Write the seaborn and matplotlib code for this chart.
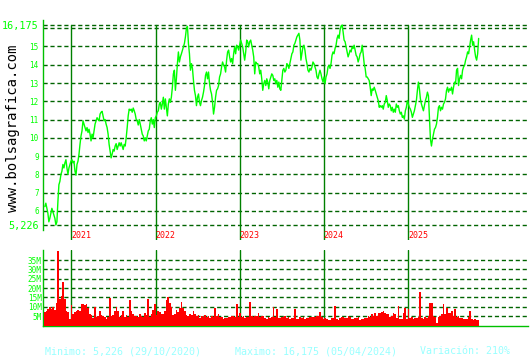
import matplotlib
matplotlib.use("Agg")
import matplotlib.pyplot as plt
import pandas as pd
import seaborn as sns

# ---------------- data ----------------
start_date, end_date = "2020-09-08", "2025-11-02"

close_prices = [
    6.23, 6.42, 6.15, 5.88, 5.4, 5.6, 5.88, 6.14, 5.96, 5.77, 5.59, 5.226, 5.4, 6.5,
    7.43, 7.62, 7.99, 8.17, 8.54, 8.35, 8.63, 8.8, 8.35, 8.0,
    8.35, 8.54, 8.72, 8.8, 8.63, 8.72, 8.17, 7.95, 8.54, 8.72,
    9.1, 9.64, 10.1, 10.38, 10.93, 10.75, 10.56, 10.38, 10.56, 10.29,
    10.47, 10.2, 9.83, 10.2, 10.0, 10.38, 10.75, 10.93, 11.1, 11.0,
    10.93, 11.3, 11.4, 11.45, 11.2, 10.93, 11.0, 10.75, 10.56, 10.2,
    9.64, 9.27, 8.9, 9.1, 9.36, 9.27, 9.55, 9.68, 9.36, 9.55,
    9.73, 9.55, 9.73, 9.55, 9.36, 9.64, 9.55, 10.0, 10.56, 11.2,
    11.57, 11.5, 11.57, 11.4, 11.63, 11.48, 11.3, 11.0, 10.93, 10.7,
    11.0, 10.75, 10.47, 10.2, 10.1, 9.83, 10.0, 9.83, 10.1, 10.38, 10.47,
    10.93, 11.1, 10.75, 11.0, 10.56, 11.1, 11.2, 11.4, 11.48, 11.85,
    11.94, 11.57, 11.85, 12.22, 11.57, 12.13, 11.67, 11.2, 11.85, 12.13,
    11.94, 12.22, 12.77, 13.5, 13.7, 12.6, 13.23, 14.06, 14.7, 14.15,
    14.43, 14.6, 14.8, 14.98, 15.17, 15.53, 16.0, 16.1, 15.17, 14.6,
    13.7, 14.06, 13.8, 13.14, 12.6, 12.3, 11.76, 12.22, 12.4, 11.94,
    11.76, 12.04, 12.22, 12.5, 12.86, 13.42, 13.6, 13.23, 13.6, 12.96,
    12.6, 12.4, 11.94, 11.3, 11.67, 12.22, 12.6, 12.68, 12.86, 13.33,
    13.5, 13.88, 14.15, 13.97, 13.88, 13.6, 14.25, 14.7, 14.8, 14.43,
    14.15, 14.34, 14.06, 14.6, 14.98, 14.6, 15.07, 14.98, 14.8, 15.07,
    15.35, 15.17, 14.98, 14.6, 14.25, 14.7, 15.35, 15.26, 14.98, 15.26,
    15.35, 15.07, 14.8, 14.43, 13.5, 14.15, 14.06,
    14.06, 13.88, 13.5, 13.7, 13.23, 12.6, 12.96, 13.14, 12.86, 13.23,
    13.05, 12.68, 13.14, 13.33, 13.5, 13.42, 13.14, 13.23, 12.96, 13.14,
    12.77, 13.05, 12.68, 12.6, 13.14, 13.7, 13.8, 13.6, 13.7, 14.06,
    13.97, 13.8, 14.06, 14.34, 14.6, 14.7, 15.07, 15.17, 15.35, 15.53,
    15.62, 15.72, 15.35, 14.25, 14.6, 14.98, 15.07, 14.8, 14.34, 14.06,
    13.7, 13.6, 13.8, 13.7, 13.88, 14.15, 14.06, 13.88, 13.7, 13.33,
    13.23, 13.5, 13.7, 13.5, 13.23, 13.05, 13.33, 12.96, 13.33, 13.5,
    13.88, 13.97, 13.8, 14.06, 14.52, 14.7, 14.6, 14.89, 15.07, 15.44,
    15.62, 15.44, 15.9, 16.12, 16.175, 15.81, 15.35, 15.26, 14.98, 14.7,
    14.43, 14.6, 14.8, 14.7, 14.98, 14.89, 15.07, 14.8, 14.52, 14.43,
    14.15, 14.34, 14.6, 14.7, 15.07, 14.6, 14.06, 13.8, 13.33,
    13.33, 13.23, 13.14, 12.77, 12.31, 12.68, 12.6, 12.77, 12.6, 12.4,
    12.22, 12.04, 11.67, 11.76, 11.67, 11.76, 11.57, 11.85, 11.94, 12.31,
    12.04, 11.67, 11.85, 11.76, 11.48, 11.67, 11.4, 11.57, 11.4, 11.85,
    11.67, 11.76, 11.48, 11.3, 11.4, 11.12, 11.2, 11.02, 11.48, 11.67,
    12.04, 11.85, 11.67, 11.57, 11.4, 11.12, 11.3, 11.48, 11.76, 12.04,
    12.59, 13.05, 12.68, 12.13, 11.85, 11.67, 11.48, 11.76, 12.04, 12.22,
    12.5, 12.3, 11.12, 9.92, 9.55, 9.92, 10.2, 10.47, 10.56, 10.75,
    11.12, 11.67, 11.76, 11.48, 11.67, 11.57, 11.85, 11.94, 12.13, 12.59,
    12.77, 12.5, 12.68, 12.6, 12.77, 12.4, 12.77, 13.05, 12.96, 13.7,
    13.8, 12.86, 13.23, 13.42, 13.23, 13.7, 13.88, 13.97, 14.25, 14.43,
    14.7, 14.6, 14.98, 15.35, 15.62, 15.07, 15.26, 14.8, 14.43, 14.25,
    14.6, 15.44,
]

volume_m = [
    7.0, 8.0, 9.0, 10.0, 9.0, 10.0, 8.5, 12.3, 40.0, 14.0,
    15.9, 23.5, 14.0, 7.6, 7.0, 3.7, 10.8, 6.4, 7.0, 7.6,
    8.5, 7.6, 11.6, 11.6, 10.8, 11.6, 9.4, 6.4, 5.7, 4.0,
    10.0, 4.6, 5.0, 7.6, 5.7, 5.0, 4.3, 3.7, 4.3, 14.8,
    5.0, 5.7, 7.6, 10.0, 8.0, 4.6, 5.7, 8.0, 4.3, 5.7,
    4.3, 13.7, 7.6, 6.0, 5.0, 5.0, 4.3, 6.4, 5.0, 4.3,
    6.8, 5.7, 14.0, 4.6, 6.4, 8.5, 11.6, 5.7, 7.6, 7.0,
    6.4, 6.0, 7.6, 13.7, 15.5, 12.0, 10.0, 5.7, 6.4, 8.5,
    7.0, 9.4, 12.8, 9.4, 7.6, 5.7, 5.0, 6.4, 5.7, 7.6,
    6.4, 5.0, 5.7, 4.0,
    5.0, 4.3, 5.5, 4.3, 5.0, 3.9, 5.0, 4.3, 9.4, 5.1,
    6.0, 4.3, 4.6, 3.4, 3.9, 3.9, 4.3, 4.3, 5.1, 5.1,
    4.3, 11.6, 4.3, 6.9, 4.3, 5.1, 3.9, 4.6, 4.3, 12.8,
    5.1, 4.6, 5.1, 5.1, 6.9, 4.3, 5.1, 5.1, 3.9, 3.4,
    4.6, 3.9, 4.3, 10.0, 4.3, 9.0, 3.9, 3.9, 4.6, 4.3,
    5.1, 3.9, 4.3, 3.4, 3.9, 3.9, 9.0, 3.4, 3.4, 4.3,
    3.9, 4.6, 3.4, 3.9, 3.9, 4.3, 4.3, 4.6, 4.3, 5.1,
    5.1, 7.3, 4.6, 3.4, 3.9, 3.4, 2.8, 2.8, 3.9, 3.9,
    10.5, 3.4, 2.8, 3.9, 4.3, 4.6, 3.9, 3.9, 5.1, 4.3,
    3.4, 3.4, 3.9, 3.9, 4.3, 2.8, 3.4, 3.4, 3.9, 3.9,
    5.1, 4.6, 6.0, 5.1, 6.9, 5.1, 6.9, 6.9, 7.3, 7.8,
    6.9, 6.0, 6.0, 4.3, 5.1, 6.9, 6.0, 3.9, 10.5, 3.4,
    3.4, 6.9, 9.6, 3.4, 8.6, 3.9, 4.3, 3.4, 3.9, 3.9,
    4.3, 18.0, 3.9, 3.4, 4.6, 3.9, 5.1, 12.3, 12.3, 5.1,
    4.3, 1.5, 4.6, 5.1, 6.0, 11.6, 6.0, 9.4, 6.9, 6.9,
    7.8, 5.1, 9.0, 4.3, 5.1, 3.9, 3.9, 3.4, 3.4, 3.4,
    4.3, 7.9, 3.4, 2.8, 3.4, 2.8, 2.8,
]

price_tick_values = [5.226, 6, 7, 8, 9, 10, 11, 12, 13, 14, 15, 16.175]
price_tick_labels = ["5,226", "6", "7", "8", "9", "10", "11", "12", "13", "14", "15", "16,175"]
price_grid_values = [5.226, 6, 7, 8, 9, 10, 11, 12, 13, 14, 15, 16, 16.175]
volume_tick_values = [5, 10, 15, 20, 25, 30, 35]
volume_tick_labels = ["5M", "10M", "15M", "20M", "25M", "30M", "35M"]
year_starts = ["2021-01-01", "2022-01-01", "2023-01-01", "2024-01-01", "2025-01-01"]
year_labels = ["2021", "2022", "2023", "2024", "2025"]
watermark = "www.bolsagrafica.com"
footer_texts = ["Minimo: 5,226 (29/10/2020)", "Maximo: 16,175 (05/04/2024)", "Variación: 210%"]

# ---------------- style ----------------
sns.set_style("white")
plt.rcParams["font.family"] = ["DejaVu Sans Mono", "DejaVu Sans"]
plt.rcParams["lines.scale_dashes"] = False

W, H = 530, 360
fig = plt.figure(figsize=(W / 100, H / 100), dpi=100)
fig.patch.set_facecolor("white")

def fx(px):
    return px / W

def fy(py):
    return 1 - py / H

GRID = "#006400"
YEARLINE = "#008000"
SPINE = "#00c000"
LINE = "#00ff00"
TICK = "#00ff00"

x_left = pd.Timestamp("2020-08-31")
x_right = pd.Timestamp("2026-06-04")

# ---------------- price panel ----------------
ax = fig.add_axes([fx(43), fy(240), fx(528) - fx(43), 220 / H])
ax.set_facecolor("white")
ylo, yhi = 4.405, 16.449
ax.set_ylim(ylo, yhi)
ax.set_xlim(x_left, x_right)

for g in price_grid_values:
    ax.axhline(g, color=GRID, lw=1.0, ls=(0, (3, 2)), zorder=1)
top_frac = (16.175 - ylo) / (yhi - ylo)
for ys, yl in zip(year_starts, year_labels):
    d = pd.Timestamp(ys)
    ax.axvline(d, ymin=0, ymax=top_frac, color=YEARLINE, lw=1.0, zorder=2)
    ax.text(d, ylo + 0.02, yl, color="#ff0000", fontsize=6, ha="left", va="bottom", zorder=5)

dates = pd.date_range(start_date, end_date, periods=len(close_prices))
df = pd.DataFrame({"date": dates, "close": close_prices})
sns.lineplot(data=df, x="date", y="close", ax=ax, color=LINE, lw=1.0, zorder=4,
             estimator=None, sort=False)

for s in ["top", "right", "bottom"]:
    ax.spines[s].set_visible(False)
ax.spines["left"].set_color(SPINE)
ax.spines["left"].set_linewidth(1.0)
ax.spines["left"].set_bounds(4.952, yhi)
ax.set_yticks(price_tick_values)
ax.set_yticklabels(price_tick_labels)
ax.tick_params(axis="y", length=0, pad=3, colors=TICK, labelsize=5.5)
for lab in ax.get_yticklabels():
    if "," in lab.get_text():
        lab.set_fontsize(7.3)
ax.set_xticks([])
ax.set_xlabel("")
ax.set_ylabel("")

# ---------------- volume panel ----------------
axv = fig.add_axes([fx(43), fy(325.5), fx(528) - fx(43), 75.5 / H])
axv.set_facecolor("white")
axv.set_xlim(x_left, x_right)
axv.set_ylim(0, 40.4)
for g in volume_tick_values:
    axv.axhline(g, color=GRID, lw=1.0, ls=(0, (3, 2)), zorder=1)
for ys in year_starts:
    axv.axvline(pd.Timestamp(ys), color=YEARLINE, lw=1.0, zorder=2)
vdates = pd.date_range(start_date, end_date, periods=len(volume_m))
step = (vdates[1] - vdates[0])
axv.bar(vdates, volume_m, width=step, color="#ff0000", linewidth=0, zorder=3)
for s in ["top", "right"]:
    axv.spines[s].set_visible(False)
for s in ["left", "bottom"]:
    axv.spines[s].set_color(SPINE)
    axv.spines[s].set_linewidth(1.0)
axv.set_yticks(volume_tick_values)
axv.set_yticklabels(volume_tick_labels)
axv.tick_params(axis="y", length=0, pad=1, colors=TICK, labelsize=5.5)
axv.set_xticks([])

# ---------------- texts ----------------
fig.text(fx(13), fy(128), watermark, rotation=90, ha="center", va="center",
         fontsize=10, color="black")
footer_x = [45, 235, 420]
for t, xp in zip(footer_texts, footer_x):
    fig.text(fx(xp), fy(351), t, ha="left", va="center", fontsize=7.2, color="#99ffff")

fig.savefig("out.png", dpi=100, facecolor="white")
